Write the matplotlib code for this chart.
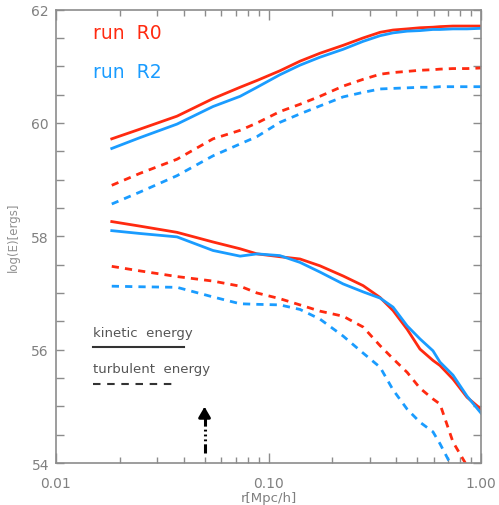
import matplotlib
matplotlib.use("Agg")
import matplotlib.pyplot as plt
import matplotlib.ticker as mticker
import numpy as np

# radius grid [Mpc/h]
r = [0.0183, 0.0248, 0.0371, 0.0548, 0.0735, 0.0883, 0.113, 0.1406, 0.1745, 0.2244,
     0.2786, 0.335, 0.3855, 0.449, 0.516, 0.594, 0.641, 0.738, 0.859, 1.0]

# upper pair of curves
top_solid_R0 = [59.72, 59.89, 60.12, 60.43, 60.63, 60.75, 60.92, 61.09, 61.23, 61.37,
                61.50, 61.60, 61.64, 61.66, 61.68, 61.69, 61.70, 61.71, 61.71, 61.71]
top_solid_R2 = [59.55, 59.74, 59.98, 60.29, 60.47, 60.63, 60.85, 61.02, 61.16, 61.30,
                61.44, 61.54, 61.59, 61.62, 61.63, 61.65, 61.65, 61.66, 61.66, 61.67]
top_dash_R0 = [58.90, 59.11, 59.36, 59.72, 59.87, 60.00, 60.20, 60.33, 60.47, 60.65,
               60.77, 60.86, 60.89, 60.91, 60.93, 60.94, 60.95, 60.96, 60.96, 60.97]
top_dash_R2 = [58.57, 58.78, 59.07, 59.42, 59.63, 59.76, 60.01, 60.16, 60.30, 60.46,
               60.54, 60.60, 60.61, 60.62, 60.63, 60.63, 60.64, 60.64, 60.64, 60.64]

# kinetic (solid) and turbulent (dashed) energy
kin_R0 = [58.26, 58.18, 58.07, 57.90, 57.78, 57.69, 57.64, 57.60, 57.48, 57.30,
          57.13, 56.92, 56.69, 56.36, 56.01, 55.81, 55.72, 55.48, 55.16, 54.95]
kin_R2 = [58.10, 58.05, 57.99, 57.75, 57.65, 57.69, 57.66, 57.54, 57.37, 57.16,
          57.02, 56.91, 56.75, 56.42, 56.19, 55.98, 55.78, 55.55, 55.18, 54.88]
turb_R0 = [57.47, 57.39, 57.29, 57.21, 57.12, 57.00, 56.90, 56.79, 56.68, 56.59,
           56.40, 56.07, 55.84, 55.60, 55.32, 55.13, 55.04, 54.37, 53.95, 53.54]
turb_R2 = [57.12, 57.11, 57.10, 56.93, 56.81, 56.80, 56.79, 56.71, 56.54, 56.24,
           55.94, 55.69, 55.29, 54.95, 54.72, 54.55, 54.34, 53.90, 53.45, 53.00]

arrow_r = 0.05
arrow_y = (54.18, 55.04)

red = "#ff2a10"
blue = "#1a9cff"
gray = "#8c8c8c"
dash = (0, (2.6, 2.2))

fig = plt.figure(figsize=(4.99, 5.06), dpi=100)
ax = fig.add_axes([0.1122, 0.083, 0.8518, 0.896])

ax.plot(r, top_solid_R0, color=red, lw=2)
ax.plot(r, top_solid_R2, color=blue, lw=2)
ax.plot(r, top_dash_R0, color=red, lw=2, linestyle=dash)
ax.plot(r, top_dash_R2, color=blue, lw=2, linestyle=dash)
ax.plot(r, kin_R0, color=red, lw=2)
ax.plot(r, kin_R2, color=blue, lw=2)
ax.plot(r, turb_R0, color=red, lw=2, linestyle=dash)
ax.plot(r, turb_R2, color=blue, lw=2, linestyle=dash)

# arrow marking a scale
ax.plot([arrow_r, arrow_r], [arrow_y[0], arrow_y[1] - 0.15], color="black", lw=2.2,
        linestyle=(0, (3, 1, 0.6, 1, 0.6, 1, 0.6, 1)))
ax.annotate("", xy=(arrow_r, arrow_y[1]), xytext=(arrow_r, arrow_y[1] - 0.2),
            arrowprops=dict(arrowstyle="-|>,head_width=0.35,head_length=0.6",
                            color="black", lw=2.2))

ax.set_xscale("log")
ax.set_xlim(0.01, 1.0)
ax.set_ylim(54, 62)
ax.set_xticks([0.01, 0.1, 1.0])
ax.set_xticklabels(["0.01", "0.10", "1.00"])
ax.xaxis.set_minor_locator(mticker.LogLocator(base=10, subs=np.arange(2, 10)))
ax.xaxis.set_minor_formatter(mticker.NullFormatter())
ax.set_yticks([54, 56, 58, 60, 62])
ax.set_yticks(np.arange(54, 62.01, 0.5), minor=True)
ax.tick_params(which="both", direction="in", top=True, right=True, color=gray,
               labelcolor="#808080", labelsize=10, width=1)
ax.tick_params(axis="x", which="major", length=7, pad=9)
ax.tick_params(axis="x", which="minor", length=4)
ax.tick_params(axis="y", which="both", length=6, pad=5)
for s in ax.spines.values():
    s.set_color(gray)
    s.set_linewidth(1.2)

ax.set_xlabel("r[Mpc/h]", color="#808080", fontsize=9.5)
ax.xaxis.set_label_coords(0.5, -0.061)
ax.set_ylabel("log(E)[ergs]", color="#909090", fontsize=8.5, labelpad=8)

ax.text(0.087, 0.950, "run  R0", color=red, fontsize=13.5, transform=ax.transAxes,
        va="center")
ax.text(0.087, 0.864, "run  R2", color=blue, fontsize=13.5, transform=ax.transAxes,
        va="center")

ax.text(0.087, 0.288, "kinetic  energy", color="#555555", fontsize=9.5,
        transform=ax.transAxes, va="center")
ax.plot([0.087, 0.301], [0.256, 0.256], color="#333333", lw=1.5, transform=ax.transAxes)
ax.text(0.087, 0.209, "turbulent  energy", color="#555555", fontsize=9.5,
        transform=ax.transAxes, va="center")
ax.plot([0.087, 0.287], [0.174, 0.174], color="#333333", lw=1.5, transform=ax.transAxes,
        linestyle=(0, (3.6, 3.2)))

fig.savefig("out.png", dpi=100)
